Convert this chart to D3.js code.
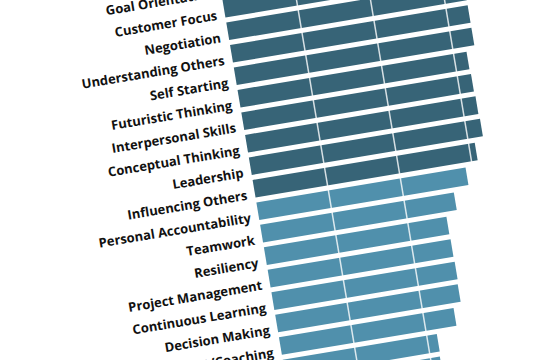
<!DOCTYPE html>
<html>
<head>
<meta charset="utf-8">
<script src="https://cdn.jsdelivr.net/npm/d3@7.9.0/dist/d3.min.js"></script>
<style>
  html, body { margin: 0; padding: 0; background: #fff; }
  svg { display: block; }
  .label { font-family: 'Open Sans', sans-serif; font-weight: 700; font-size: 13px; fill: #111; }
</style>
</head>
<body>
<svg id="chart" width="550" height="360"></svg>
<script>
// competencies, top group (dark) then bottom group (light)
const topSkills = ['Goal Orientation', 'Customer Focus', 'Negotiation', 'Understanding Others',
  'Self Starting', 'Futuristic Thinking', 'Interpersonal Skills', 'Conceptual Thinking',
  'Leadership', 'Influencing Others'];
const topScores = [67, 66, 66, 66, 66, 63.6, 63.8, 64, 64.2, 61.7];

const bottomSkills = ['Personal Accountability', 'Teamwork', 'Resiliency', 'Project Management',
  'Continuous Learning', 'Decision Making', 'Employee Development/Coaching',
  'Planning/Organizing', 'Time and Priority Management'];
const bottomScores = [58.1, 53.8, 50.7, 50.8, 50.9, 50.7, 48.5, 42.8, 42.6];

const gridTicks = [20, 40, 60, 80];

const data = topSkills.map((s, i) => ({ skill: s, score: topScores[i], group: 'top' }))
  .concat(bottomSkills.map((s, i) => ({ skill: s, score: bottomScores[i], group: 'bottom' })));

const step = 22.8;
const angle = -9.5;

const svg = d3.select('#chart');

const x = d3.scaleLinear().domain([0, 100]).range([0, 365]);
const y = d3.scaleBand()
  .domain(data.map(d => d.skill))
  .range([0, step * data.length])
  .paddingInner(0.22)
  .paddingOuter(0.11);

const color = d3.scaleOrdinal().domain(['top', 'bottom']).range(['#376477', '#5090ac']);

const g = svg.append('g')
  .attr('transform', `translate(222.5,0) rotate(${angle}) translate(0,${-y('Customer Focus')})`);

// bars
g.selectAll('rect.bar')
  .data(data)
  .join('rect')
  .attr('class', 'bar')
  .attr('x', 0)
  .attr('y', d => y(d.skill))
  .attr('width', d => x(d.score))
  .attr('height', y.bandwidth())
  .attr('fill', d => color(d.group));

// white grid lines over the bars
g.selectAll('line.grid')
  .data(gridTicks)
  .join('line')
  .attr('class', 'grid')
  .attr('x1', d => x(d))
  .attr('x2', d => x(d))
  .attr('y1', y.range()[0])
  .attr('y2', y.range()[1])
  .attr('stroke', '#fff')
  .attr('stroke-opacity', 0.8)
  .attr('stroke-width', 1.5);

// labels
g.selectAll('text.label')
  .data(data)
  .join('text')
  .attr('class', 'label')
  .attr('x', -8)
  .attr('y', d => y(d.skill) + y.bandwidth() + 1)
  .attr('text-anchor', 'end')
  .text(d => d.skill);
</script>
</body>
</html>
